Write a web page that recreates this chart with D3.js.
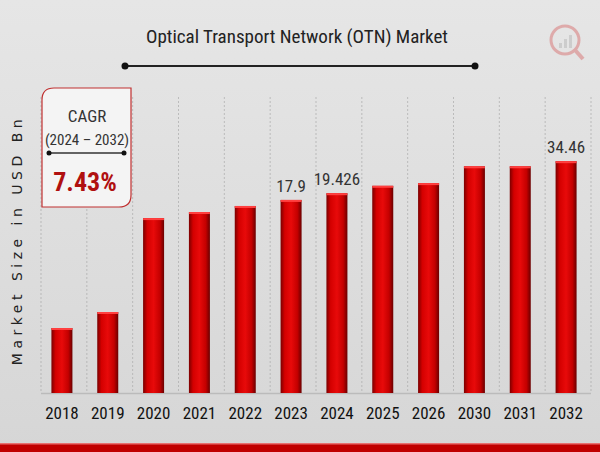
<!DOCTYPE html>
<html><head><meta charset="utf-8">
<script src="https://d3js.org/d3.v7.min.js"></script>
<style>body{margin:0}svg{display:block}</style>
</head><body>
<script>
const categories=["2018","2019","2020","2021","2022","2023","2024","2025","2026","2030","2031","2032"];
const values=[9.66,12.04,26.0,26.9,27.8,28.7,29.7,30.8,31.2,33.7,33.7,34.46];
const valueLabels={"2023":"17.9","2024":"19.426","2032":"34.46"};
const W=600,H=452;
const svg=d3.select("body").append("svg").attr("width",W).attr("height",H);
const defs=svg.append("defs");
const bg=defs.append("linearGradient").attr("id","bg").attr("x1",0).attr("y1",0).attr("x2",0).attr("y2",1);
bg.append("stop").attr("offset","0").attr("stop-color","#e6e6e6");
bg.append("stop").attr("offset","1").attr("stop-color","#d6d6d6");
const bar=defs.append("linearGradient").attr("id","bar").attr("x1",0).attr("y1",0).attr("x2",1).attr("y2",0);
[["0","#7a0000"],["0.2","#d40000"],["0.5","#e80a0a"],["0.8","#c40000"],["1","#6a0000"]].forEach(s=>bar.append("stop").attr("offset",s[0]).attr("stop-color",s[1]));
svg.append("rect").attr("width",W).attr("height",H).attr("fill","url(#bg)");
svg.append("rect").attr("y",444).attr("width",W).attr("height",8).attr("fill","#c00000");
svg.append("rect").attr("y",443).attr("width",W).attr("height",1.5).attr("fill","#e87070");
const font="'Liberation Sans Narrow','Roboto Condensed','Liberation Sans',sans-serif";
const x=d3.scaleBand().domain(categories).range([39,589]).paddingInner(0).paddingOuter(0);
const y=d3.scaleLinear().domain([0,44]).range([393,97]);
const gl=[41,...categories.map(c=>x(c)+x.bandwidth()+2)];
svg.append("g").selectAll("line").data(gl).join("line")
 .attr("x1",d=>d).attr("x2",d=>d).attr("y1",97).attr("y2",393)
 .attr("stroke","#aaa").attr("stroke-width",0.7).attr("stroke-dasharray","2,2");
svg.append("line").attr("x1",41).attr("x2",591).attr("y1",393.5).attr("y2",393.5).attr("stroke","#bbb").attr("stroke-width",1.5);
const bw=21;
svg.append("g").selectAll("rect").data(categories).join("rect")
 .attr("x",c=>x(c)+x.bandwidth()/2-bw/2).attr("width",bw)
 .attr("y",(c,i)=>y(values[i])).attr("height",(c,i)=>393-y(values[i]))
 .attr("fill","url(#bar)");
svg.append("g").selectAll("rect").data(categories).join("rect")
 .attr("x",c=>x(c)+x.bandwidth()/2-bw/2).attr("width",bw)
 .attr("y",(c,i)=>y(values[i])).attr("height",2).attr("fill","#ff4040");
svg.append("g").selectAll("text").data(categories.filter(c=>valueLabels[c])).join("text")
 .attr("x",c=>x(c)+x.bandwidth()/2).attr("y",c=>y(values[categories.indexOf(c)])-8)
 .attr("text-anchor","middle").attr("font-family",font).attr("font-size",17).attr("fill","#333")
 .text(c=>valueLabels[c]);
const xa=svg.append("g").attr("transform","translate(0,393)").call(d3.axisBottom(x).tickSize(0).tickPadding(14));
xa.select(".domain").remove();
xa.selectAll("text").attr("font-family",font).attr("font-size",17).attr("fill","#111");
svg.append("text").attr("transform","translate(22,240) rotate(-90)").attr("text-anchor","middle")
 .attr("font-family","'DejaVu Sans',sans-serif").attr("font-size",14).attr("letter-spacing",4.5).attr("fill","#222")
 .text("Market Size in USD Bn");
svg.append("text").attr("x",297).attr("y",43).attr("text-anchor","middle").attr("font-family",font)
 .attr("font-size",19).attr("fill","#222").text("Optical Transport Network (OTN) Market");
svg.append("line").attr("x1",125).attr("x2",475).attr("y1",66).attr("y2",66).attr("stroke","#222").attr("stroke-width",2);
svg.selectAll("circle.t").data([125,475]).join("circle").attr("cx",d=>d).attr("cy",66).attr("r",3.5).attr("fill","#111");
svg.append("path").attr("d","M42,100 Q42,88 54,88 L131,88 L131,195 Q131,207 119,207 L42,207 Z")
 .attr("fill","#f4f4f4").attr("stroke","#c03030").attr("stroke-width",1.2);
svg.append("text").attr("x",87).attr("y",122).attr("text-anchor","middle").attr("font-family",font).attr("font-size",17).attr("fill","#333").text("CAGR");
svg.append("text").attr("x",87).attr("y",145).attr("text-anchor","middle").attr("font-family",font).attr("font-size",15).attr("fill","#333").text("(2024 – 2032)");
svg.append("line").attr("x1",49).attr("x2",124).attr("y1",153).attr("y2",153).attr("stroke","#333").attr("stroke-width",1.5);
svg.selectAll("circle.c").data([49,124]).join("circle").attr("cx",d=>d).attr("cy",153).attr("r",2.5).attr("fill","#111");
svg.append("text").attr("x",85).attr("y",191).attr("text-anchor","middle").attr("font-family",font).attr("font-size",26).attr("font-weight","bold").attr("fill","#b01010").text("7.43%");
const lg=svg.append("g").attr("opacity",0.25);
lg.append("circle").attr("cx",565).attr("cy",40).attr("r",14).attr("fill","none").attr("stroke","#c00").attr("stroke-width",3);
lg.append("line").attr("x1",575).attr("y1",50).attr("x2",583).attr("y2",59).attr("stroke","#c00").attr("stroke-width",4);
[[559,5],[564,9],[569,13]].forEach(d=>lg.append("rect").attr("x",d[0]).attr("y",48-d[1]).attr("width",3).attr("height",d[1]).attr("fill","#888"));
</script>
</body></html>
